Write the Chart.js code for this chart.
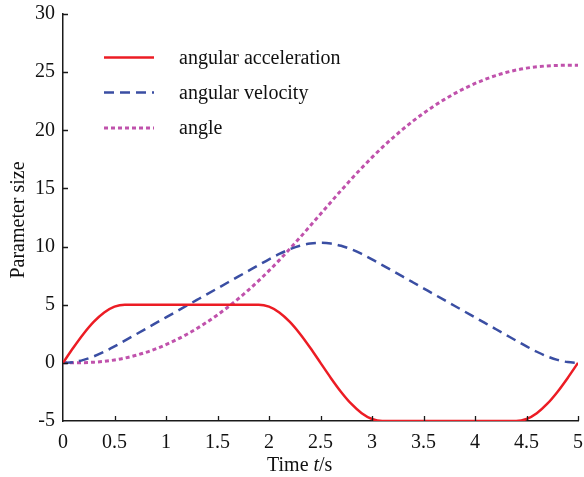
<!DOCTYPE html>
<html>
<head>
<meta charset="utf-8">
<script src="https://cdn.jsdelivr.net/npm/chart.js@4/dist/chart.umd.min.js"></script>
<style>
  html, body { margin: 0; padding: 0; background: #fff; }
  #wrap { width: 584px; height: 477px; }
</style>
</head>
<body>
<div id="wrap"><canvas id="c" width="584" height="477"></canvas></div>
<script>
const timeValues = [0,0.1,0.2,0.3,0.4,0.5,0.6,0.7,0.8,0.9,1.0,1.1,1.2,1.3,1.4,1.5,1.6,1.7,1.8,1.9,2.0,2.1,2.2,2.3,2.4,2.5,2.6,2.7,2.8,2.9,3.0,3.1,3.2,3.3,3.4,3.5,3.6,3.7,3.8,3.9,4.0,4.1,4.2,4.3,4.4,4.5,4.6,4.7,4.8,4.9,5.0];
const angularAcceleration = [0,1.294,2.5,3.536,4.33,4.83,5,
  5,5,5,5,5,5,5,5,5,5,5,5,5,
  4.83,4.33,3.536,2.5,1.294,0,-1.294,-2.5,-3.536,-4.33,-4.83,
  -5,-5,-5,-5,-5,-5,-5,-5,-5,-5,-5,-5,-5,-5,
  -4.83,-4.33,-3.536,-2.5,-1.294,0];
const angularVelocity = [0,0.065,0.256,0.559,0.955,1.416,1.91,
  2.41,2.91,3.41,3.91,4.41,4.91,5.41,5.91,6.41,6.91,7.41,7.91,8.41,
  8.904,9.365,9.76,10.064,10.255,10.32,10.255,10.064,9.76,9.365,8.904,
  8.41,7.91,7.41,6.91,6.41,5.91,5.41,4.91,4.41,3.91,3.41,2.91,2.41,1.91,
  1.416,0.955,0.559,0.256,0.065,0];
const angleValues = [0,0.002,0.017,0.057,0.131,0.248,0.413,
  0.627,0.891,1.204,1.567,1.98,2.442,2.954,3.516,4.127,4.787,5.498,6.258,7.067,
  7.926,8.833,9.782,10.766,11.775,12.797,13.819,14.827,15.811,16.761,17.668,
  18.526,19.335,20.095,20.805,21.466,22.077,22.638,23.15,23.613,24.025,24.388,24.702,24.966,25.18,
  25.345,25.463,25.537,25.577,25.592,25.594];
const seriesNames = ['angular acceleration', 'angular velocity', 'angle'];
const xTickValues = [0,0.5,1,1.5,2,2.5,3,3.5,4,4.5,5];
const yTickValues = [-5,0,5,10,15,20,25,30];

const FONT = "'Liberation Serif', 'Times New Roman', serif";
const toPoints = (vals) => vals.map((v, i) => ({x: timeValues[i], y: v}));

const extras = {
  id: 'extras',
  afterDraw(chart) {
    const ctx = chart.ctx;
    const xs = chart.scales.x, ys = chart.scales.y;
    const area = chart.chartArea;
    ctx.save();
    // inward ticks
    ctx.strokeStyle = '#1a1a1a';
    ctx.lineWidth = 1.3;
    ctx.beginPath();
    xTickValues.forEach(v => {
      if (v === 0) return;
      const px = Math.round(xs.getPixelForValue(v)) + 0.5;
      ctx.moveTo(px, area.bottom);
      ctx.lineTo(px, area.bottom - 5);
    });
    yTickValues.forEach(v => {
      if (v === -5) return;
      const py = Math.round(ys.getPixelForValue(v)) + 0.5;
      ctx.moveTo(area.left, py);
      ctx.lineTo(area.left + 5, py);
    });
    ctx.stroke();

    // legend
    const legendY = [57.5, 92.5, 128];
    chart.data.datasets.forEach((ds, i) => {
      ctx.save();
      ctx.strokeStyle = ds.borderColor;
      ctx.lineWidth = ds.borderWidth;
      ctx.setLineDash(ds.borderDash || []);
      ctx.beginPath();
      ctx.moveTo(104, legendY[i]);
      ctx.lineTo(154, legendY[i]);
      ctx.stroke();
      ctx.restore();
      ctx.fillStyle = '#111';
      ctx.font = '20px ' + FONT;
      ctx.textBaseline = 'alphabetic';
      ctx.textAlign = 'left';
      ctx.fillText(seriesNames[i], 179, legendY[i] + 6);
    });

    // x title: Time t/s
    ctx.fillStyle = '#111';
    ctx.textBaseline = 'alphabetic';
    ctx.textAlign = 'left';
    let x = 267;
    const by = 471;
    ctx.font = '20px ' + FONT;
    ctx.fillText('Time ', x, by);
    x += ctx.measureText('Time ').width;
    ctx.font = 'italic 20px ' + FONT;
    ctx.fillText('t', x, by);
    x += ctx.measureText('t').width;
    ctx.font = '20px ' + FONT;
    ctx.fillText('/s', x, by);

    // y title
    ctx.save();
    ctx.translate(19, 220);
    ctx.rotate(-Math.PI / 2);
    ctx.textAlign = 'center';
    ctx.textBaseline = 'middle';
    ctx.font = '20px ' + FONT;
    ctx.fillText('Parameter size', 0, 0);
    ctx.restore();
    ctx.restore();
  }
};

new Chart(document.getElementById('c'), {
  type: 'line',
  data: {
    datasets: [
      { label: seriesNames[0], data: toPoints(angularAcceleration), borderColor: '#ec1c24', borderWidth: 2.5, borderDash: [], pointRadius: 0, cubicInterpolationMode: 'monotone', fill: false },
      { label: seriesNames[1], data: toPoints(angularVelocity), borderColor: '#3a4ea3', borderWidth: 2.5, borderDash: [10, 6], pointRadius: 0, cubicInterpolationMode: 'monotone', fill: false },
      { label: seriesNames[2], data: toPoints(angleValues), borderColor: '#c052ac', borderWidth: 3, borderDash: [4, 3], pointRadius: 0, cubicInterpolationMode: 'monotone', fill: false }
    ]
  },
  options: {
    responsive: false,
    animation: false,
    events: [],
    layout: { padding: { top: 14, right: 6, left: 0, bottom: 0 } },
    plugins: { legend: { display: false }, tooltip: { enabled: false }, title: { display: false } },
    scales: {
      x: {
        type: 'linear', min: 0, max: 5,
        afterBuildTicks(scale) { scale.ticks = xTickValues.map(v => ({value: v})); },
        afterFit(scale) { scale.height = 56; scale.paddingLeft = 0; scale.paddingRight = 0; },
        grid: { display: false },
        border: { display: true, color: '#1a1a1a', width: 1.5 },
        ticks: { color: '#111', font: { family: FONT, size: 20 }, padding: 2, maxRotation: 0, autoSkip: false,
          callback: (v) => String(v) }
      },
      y: {
        type: 'linear', min: -5, max: 30,
        afterBuildTicks(scale) { scale.ticks = yTickValues.map(v => ({value: v})); },
        afterFit(scale) { scale.width = 63; scale.paddingTop = 0; scale.paddingBottom = 0; },
        grid: { display: false },
        border: { display: true, color: '#1a1a1a', width: 1.5 },
        ticks: { color: '#111', font: { family: FONT, size: 20 }, padding: 0, autoSkip: false,
          callback: (v) => String(v) }
      }
    }
  },
  plugins: [extras]
});
</script>
</body>
</html>
